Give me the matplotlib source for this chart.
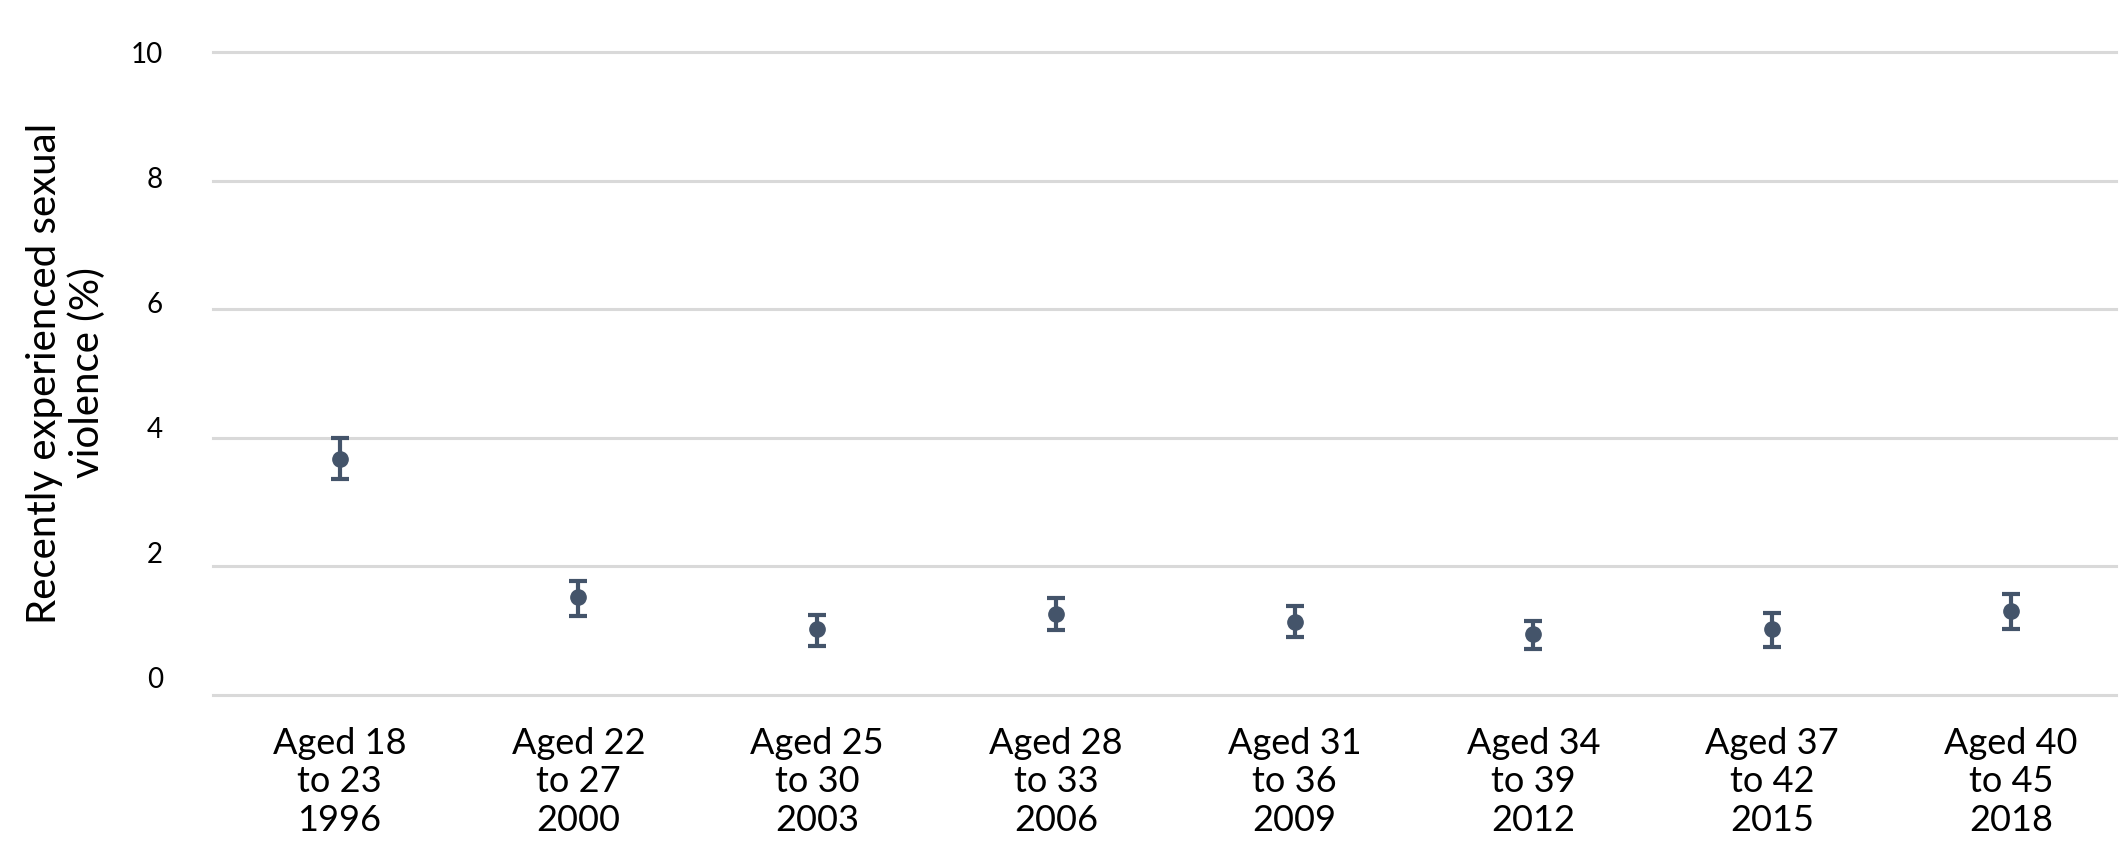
import matplotlib
matplotlib.use("Agg")
import matplotlib.pyplot as plt
import matplotlib.transforms as mtransforms

# Values
waves = ['Aged 18\nto 23\n1996', 'Aged 22\nto 27\n2000', 'Aged 25\nto 30\n2003',
         'Aged 28\nto 33\n2006', 'Aged 31\nto 36\n2009', 'Aged 34\nto 39\n2012',
         'Aged 37\nto 42\n2015', 'Aged 40\nto 45\n2018']
estimate = [3.67, 1.52, 1.03, 1.26, 1.14, 0.95, 1.03, 1.31]
ci_low = [3.36, 1.23, 0.77, 1.01, 0.90, 0.72, 0.75, 1.03]
ci_high = [4.00, 1.77, 1.24, 1.51, 1.38, 1.15, 1.27, 1.57]
yticks = [0, 2, 4, 6, 8, 10]

plt.rcParams['font.family'] = ['Lato', 'DejaVu Sans']

fig = plt.figure(figsize=(21.26, 8.68), dpi=100)
ax = fig.add_axes([0.1002, 0.1993, 0.8951, 0.7407])

x = list(range(len(waves)))
err_low = [e - l for e, l in zip(estimate, ci_low)]
err_high = [h - e for e, h in zip(estimate, ci_high)]
ax.errorbar(x, estimate, yerr=[err_low, err_high], fmt='o', color='#44546A',
            ecolor='#44546A', elinewidth=3, capsize=6.5, capthick=3,
            markersize=11, zorder=3)

ax.set_xlim(-0.53, 7.44)
ax.set_ylim(0, 10)
ax.set_xticks(x)
ax.set_xticklabels(waves, fontsize=26, linespacing=1.2)
ax.set_yticks(yticks)
ax.set_yticklabels([str(v) for v in yticks], fontsize=20)
ax.tick_params(axis='both', length=0)
ax.tick_params(axis='x', pad=23)
ax.tick_params(axis='y', pad=36)

# Excel spaces the value labels a little tighter than the gridlines
for lab, v in zip(ax.get_yticklabels(), yticks):
    off = mtransforms.ScaledTranslation(0, (10 - v) * 1.8 / 100, fig.dpi_scale_trans)
    lab.set_transform(lab.get_transform() + off)

ax.grid(axis='y', color='#D9D9D9', linewidth=2.2)
for line in ax.get_ygridlines():
    line.set_clip_on(False)
ax.set_axisbelow(True)
for s in ax.spines.values():
    s.set_visible(False)

fig.text(66 / 2126, 1 - 373 / 868, 'Recently experienced sexual\nviolence (%)',
         rotation=90, ha='center', va='center', multialignment='center',
         fontsize=29, linespacing=1.15)

fig.savefig('out.png', dpi=100)
